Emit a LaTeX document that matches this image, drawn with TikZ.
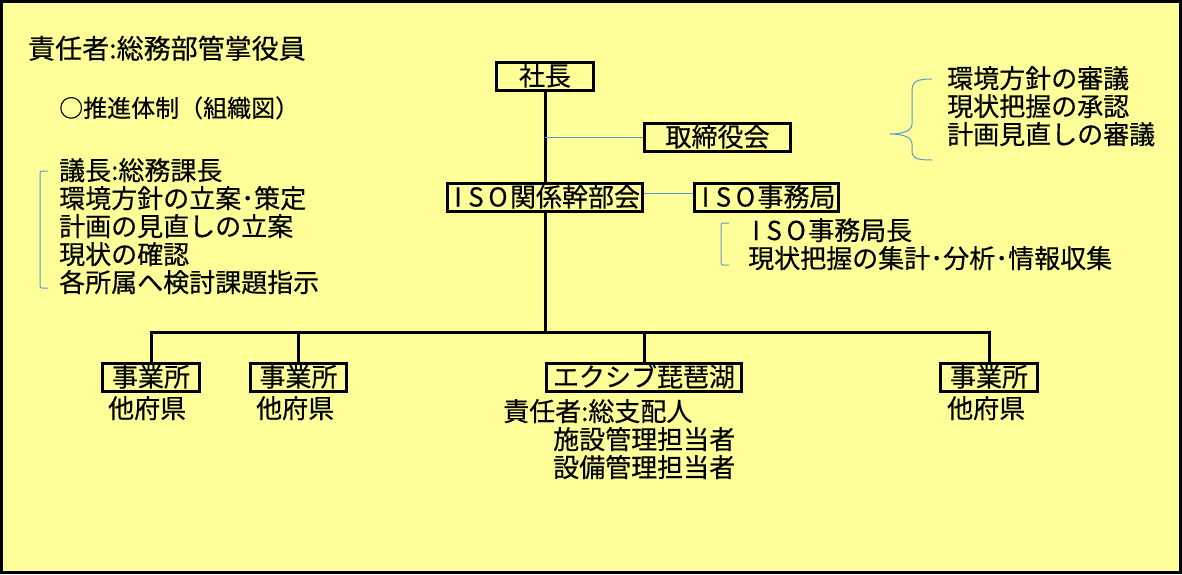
\documentclass[tikz,border=0pt]{standalone}
\usepackage{fontspec}
\setmainfont{Noto Sans CJK JP}[FakeBold=0.4]
\definecolor{bg}{RGB}{255,255,153}
\definecolor{bl}{RGB}{91,155,213}
\newcommand\isoword{\makebox[16pt]{I}\makebox[20pt]{S}\makebox[24pt]{O}}
\tikzset{
  box/.style={draw=black, line width=3pt, inner sep=0pt, minimum height=28pt,
    font=\fontsize{26}{28}\selectfont, text height=22pt, text depth=4pt},
  txt/.style={inner sep=0pt, align=left, anchor=base west,
    font=\fontsize{26}{28}\selectfont},
  trunk/.style={line width=3pt},
  thin/.style={draw=bl, line width=1pt},
}
\begin{document}
\begin{tikzpicture}[x=1pt,y=-1pt]
\useasboundingbox (0,0) rectangle (1182,574);
\fill[bg] (0,0) rectangle (1182,574);
\draw[line width=3pt] (1.5,1.5) rectangle (1180.5,572.5);

\node[box, minimum width=97pt] (shacho) at (545,76.5) {社長};
\node[box, minimum width=146pt] (torishimari) at (717.5,137.5) {取締役会};
\node[box, minimum width=195pt] (kanbu) at (545,197.5) {\isoword 関係幹部会};
\node[box, minimum width=144pt] (jimu) at (766.5,197.5) {\isoword 事務局};
\node[box, minimum width=97pt] (j1) at (151,377.5) {事業所};
\node[box, minimum width=96pt] (j2) at (298.5,377.5) {事業所};
\node[box, minimum width=195pt] (ex) at (644,377.5) {エクシブ琵琶湖};
\node[box, minimum width=97pt] (j3) at (989,377.5) {事業所};

\coordinate (bus) at (545,332);

\draw[trunk] (shacho) -- (kanbu);
\draw[trunk] (kanbu.south) -- (bus);
\draw[trunk] (j1.north) |- (bus) -| (j3.north);
\draw[trunk] (j2.north) -- (j2.north |- bus);
\draw[trunk] (ex.north) -- (ex.north |- bus);

\draw[thin] (torishimari.west) -- (torishimari.west -| shacho);
\draw[thin] ([yshift=4pt]kanbu.east) -- ([yshift=4pt]jimu.west);

\node[txt, font=\fontsize{27}{30}\selectfont] (sekinin) at (28,58.5) {責任者:総務部管掌役員};
\node[txt, font=\fontsize{24}{28}\selectfont] (suishin) at (59,117) {○推進体制（組織図）};
\node[txt] (gicho) at (59,292) {議長:総務課長\\環境方針の立案･策定\\計画の見直しの立案\\現状の確認\\各所属へ検討課題指示};
\node[txt] (shingi) at (947,144) {環境方針の審議\\現状把握の承認\\計画見直しの審議};
\node[txt] (jimutxt) at (748,268) {\isoword 事務局長\\現状把握の集計･分析･情報収集};
\node[txt] (t1) at (108,418) {他府県};
\node[txt] (t2) at (256,418) {他府県};
\node[txt] (t3) at (947,418) {他府県};
\node[txt] (ext) at (503,477) {責任者:総支配人\\\hspace*{50pt}施設管理担当者\\\hspace*{50pt}設備管理担当者};

% brackets
\draw[thin, rounded corners=2pt] (48,171) -- (40,171) -- (40,288) -- (48,288);
\draw[thin, rounded corners=2pt] (729,223) -- (721,223) -- (721,265) -- (729,265);
\draw[thin] (932,79) .. controls (915,79) and (912,82) .. (912,92) -- (912,124)
  .. controls (912,132) and (900,134) .. (890,134)
  .. controls (900,134) and (912,136) .. (912,144) -- (912,150)
  .. controls (912,158) and (915,160) .. (932,160);
\end{tikzpicture}
\end{document}
